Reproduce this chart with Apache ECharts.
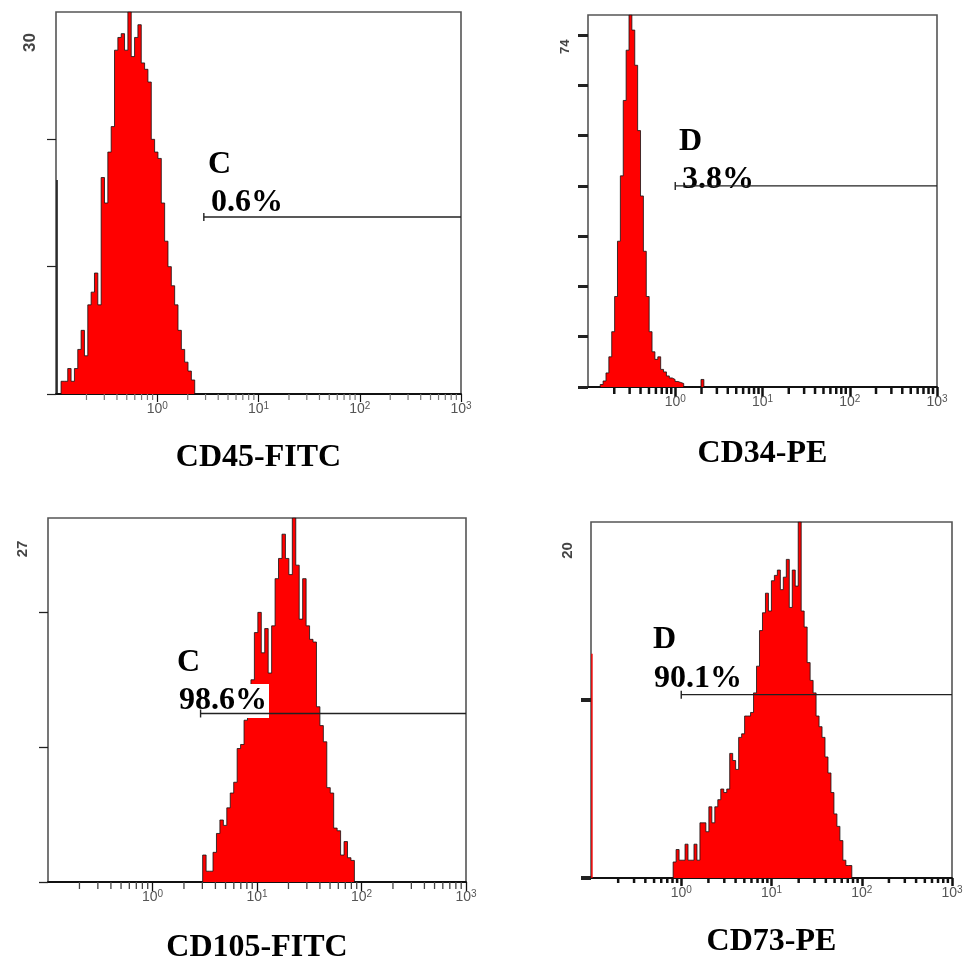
<!DOCTYPE html>
<html>
<head>
<meta charset="utf-8">
<title>Flow cytometry histograms</title>
<script src="https://cdn.jsdelivr.net/npm/echarts@6.0.0/dist/echarts.min.js"></script>
<style>
  html, body { margin: 0; padding: 0; background: #fff; }
  #chart { width: 972px; height: 965px; }
</style>
</head>
<body>
<div id="chart"></div>
<script>
// x is log10 of fluorescence, bins are 0.033 decade wide
var binWidth = 0.033;
var markers = ['CD45-FITC', 'CD34-PE', 'CD105-FITC', 'CD73-PE'];
var yMax = [30, 74, 27, 20];
var decades = [0, 1, 2, 3];
var binStart = [-0.95, -0.86, 0.48, -0.09];

var cd45Counts = [1, 1, 2, 1, 2, 3.5, 5, 3, 7, 8, 9.5, 7, 17, 15, 19, 21, 27, 28, 28.3, 27,
  30, 26.5, 28, 29, 26, 25.5, 24.5, 20, 19, 18.5, 15, 12, 10, 8.5, 7, 5, 3.5, 2.5, 1.8, 1.1, 0];
var cd34Counts = [0.5, 1.2, 2.8, 6, 11, 18, 29, 42, 57, 67, 74, 71, 64, 51, 38, 27, 18, 11, 7, 5.5,
  6, 3.5, 3, 2.2, 1.8, 1.5, 1.1, 0.9, 0.7, 0, 0, 0, 0, 0, 0, 1.5, 0];
var cd105Counts = [2, 0.8, 0.8, 2.2, 3.6, 4.6, 4.2, 5.5, 6.6, 7.4, 9.9, 10.2, 12, 12.6, 15, 18.5,
  20, 17, 18.8, 15.5, 19, 22.5, 24, 25.8, 24, 22.8, 27, 23.5, 19.5, 22.5, 19, 18, 17.8, 13, 11.6,
  10.4, 7, 6.6, 4, 3.8, 2, 3, 1.8, 1.6, 0];
var cd73Counts = [0.9, 1.6, 1.0, 1.0, 1.9, 1.0, 1.0, 1.9, 1.0, 3.1, 3.1, 2.6, 4.0, 3.1, 4.0, 4.4,
  5.0, 4.8, 5.0, 7.0, 6.6, 6.1, 7.9, 8.1, 9.1, 9.1, 9.3, 10.4, 11.9, 13.9, 14.9, 16.0, 15.0, 16.7,
  17.0, 17.3, 16.2, 16.9, 17.9, 15.2, 17.3, 16.4, 20, 15.0, 14.1, 12.1, 11.1, 10.4, 9.1, 8.5, 7.9,
  6.8, 5.9, 4.8, 3.6, 2.9, 2.1, 1.0, 0.7, 0.7, 0];
var allCounts = [cd45Counts, cd34Counts, cd105Counts, cd73Counts];

// events piled in the first channel
var firstChannel = [16.8, 0, 0, 12.6];

// marker gates
var gateFrom = [0.46, 0.0, 0.46, 0.0];
var gateLevel = [13.9, 40, 12.5, 10.3];
var gateName = ['C', 'D', 'C', 'D'];
var gatePercent = ['0.6%', '3.8%', '98.6%', '90.1%'];

// layout
var grids = [
  { left: 56, top: 12, width: 405, height: 382 },
  { left: 588, top: 15, width: 349, height: 372 },
  { left: 48, top: 518, width: 418, height: 366 },
  { left: 591, top: 522, width: 361, height: 356 }
];
var titleGap = [64, 67, 66, 64];
var yLabelPos = [[30.5, 42.5, 17], [565.5, 46.7, 13], [22.5, 549, 15], [568, 550.5, 15]];
var gateTextPos = [
  [[208, 165], [211, 203]],
  [[679, 142], [682, 180]],
  [[177, 663], [179, 701]],
  [[653, 640], [654, 679]]
];
var tickStyle = [
  { major: 8, minor: 6, w: 1.2, minorColor: '#777', yLen: 9, yW: 1.2 },
  { major: 10, minor: 7, w: 2.5, minorColor: '#111', yLen: 10, yW: 3 },
  { major: 9, minor: 7, w: 1.3, minorColor: '#444', yLen: 9, yW: 1.3 },
  { major: 8, minor: 5, w: 2.5, minorColor: '#111', yLen: 10, yW: 4 }
];
var firstChannelColor = ['#111', '#111', '#111', '#ee0000'];

var serif = '"Liberation Serif", "Times New Roman", serif';
var sans = '"Liberation Sans", Arial, sans-serif';

var minorTicks = [];
[-1, 0, 1, 2].forEach(function (d) {
  for (var k = 2; k <= 9; k++) minorTicks.push([d + Math.log10(k), 0]);
});

var option = {
  animation: false,
  grid: [],
  xAxis: [],
  yAxis: [],
  series: [],
  graphic: []
};

grids.forEach(function (g, i) {
  var ts = tickStyle[i];
  option.grid.push({
    left: g.left, top: g.top, width: g.width, height: g.height,
    show: true, borderColor: '#555', borderWidth: 1.6, backgroundColor: '#fff'
  });
  option.xAxis.push({
    gridIndex: i, type: 'value', min: -1, max: 3, interval: 1,
    name: markers[i], nameLocation: 'middle', nameGap: titleGap[i],
    nameTextStyle: { fontFamily: serif, fontWeight: 'bold', fontSize: 32, color: '#000', verticalAlign: 'middle' },
    axisLine: { show: true, onZero: false, lineStyle: { color: '#111', width: 1.8 } },
    axisTick: { show: true, customValues: decades, length: ts.major, lineStyle: { color: '#111', width: ts.w } },
    axisLabel: {
      customValues: decades, margin: 7,
      formatter: function (v) { return '{b|10}{e|' + v + '}'; },
      rich: {
        b: { fontSize: 14, fontFamily: sans, color: '#555', lineHeight: 16 },
        e: { fontSize: 10, fontFamily: sans, color: '#555', verticalAlign: 'top', lineHeight: 10 }
      }
    },
    splitLine: { show: false }
  });
  var yTicks = [];
  for (var t = 0; t < yMax[i]; t += 10) yTicks.push(t);
  option.yAxis.push({
    gridIndex: i, type: 'value', min: 0, max: yMax[i], interval: 10,
    axisLine: { show: false, onZero: false },
    axisTick: { show: true, customValues: yTicks, length: ts.yLen, lineStyle: { color: '#222', width: ts.yW } },
    axisLabel: { show: false },
    splitLine: { show: false }
  });

  var data = [[binStart[i], 0]];
  allCounts[i].forEach(function (c, j) {
    data.push([+(binStart[i] + j * binWidth).toFixed(3), c]);
  });
  option.series.push({
    type: 'line', xAxisIndex: i, yAxisIndex: i, step: 'end', symbol: 'none',
    data: data, z: 2,
    lineStyle: { color: '#111', width: 0.8 },
    areaStyle: { color: '#ff0000', opacity: 1 }
  });

  if (firstChannel[i] > 0) {
    option.series.push({
      type: 'line', xAxisIndex: i, yAxisIndex: i, symbol: 'none', z: 3,
      data: [[-0.99, 0], [-0.99, firstChannel[i]]],
      lineStyle: { color: firstChannelColor[i], width: 1.5 }
    });
  }

  option.series.push({
    type: 'custom', xAxisIndex: i, yAxisIndex: i, z: 150, silent: true,
    data: [[gateFrom[i], gateLevel[i]]],
    renderItem: function (params, api) {
      var a = api.coord([api.value(0), api.value(1)]);
      var b = api.coord([3, api.value(1)]);
      return {
        type: 'group',
        children: [
          { type: 'line', shape: { x1: a[0], y1: a[1], x2: b[0], y2: b[1] }, style: { stroke: '#222', lineWidth: 1.4 } },
          { type: 'line', shape: { x1: a[0], y1: a[1] - 4, x2: a[0], y2: a[1] + 4 }, style: { stroke: '#222', lineWidth: 1.4 } }
        ]
      };
    }
  });

  option.series.push({
    type: 'custom', xAxisIndex: i, yAxisIndex: i, z: 5, silent: true, clip: false,
    data: minorTicks,
    renderItem: function (params, api) {
      var p = api.coord([api.value(0), 0]);
      return {
        type: 'line',
        shape: { x1: p[0], y1: p[1], x2: p[0], y2: p[1] + ts.minor },
        style: { stroke: ts.minorColor, lineWidth: ts.w }
      };
    }
  });

  var yl = yLabelPos[i];
  option.graphic.push({
    type: 'text', x: yl[0], y: yl[1], rotation: Math.PI / 2, z: 100,
    style: { text: String(yMax[i]), font: 'bold ' + yl[2] + 'px ' + sans, fill: '#444', align: 'center', verticalAlign: 'middle' }
  });
  var gp = gateTextPos[i];
  option.graphic.push({
    type: 'text', x: gp[0][0], y: gp[0][1], z: 100,
    style: { text: gateName[i], font: 'bold 32px ' + serif, fill: '#000', align: 'left', verticalAlign: 'middle' }
  });
  option.graphic.push({
    type: 'text', x: gp[1][0], y: gp[1][1], z: 100,
    style: {
      text: gatePercent[i], font: 'bold 32px ' + serif, fill: '#000', align: 'left', verticalAlign: 'middle',
      backgroundColor: i === 2 ? '#fff' : null, padding: i === 2 ? [0, 2, 2, 0] : 0
    }
  });
});

var chart = echarts.init(document.getElementById('chart'));
chart.setOption(option);
</script>
</body>
</html>
